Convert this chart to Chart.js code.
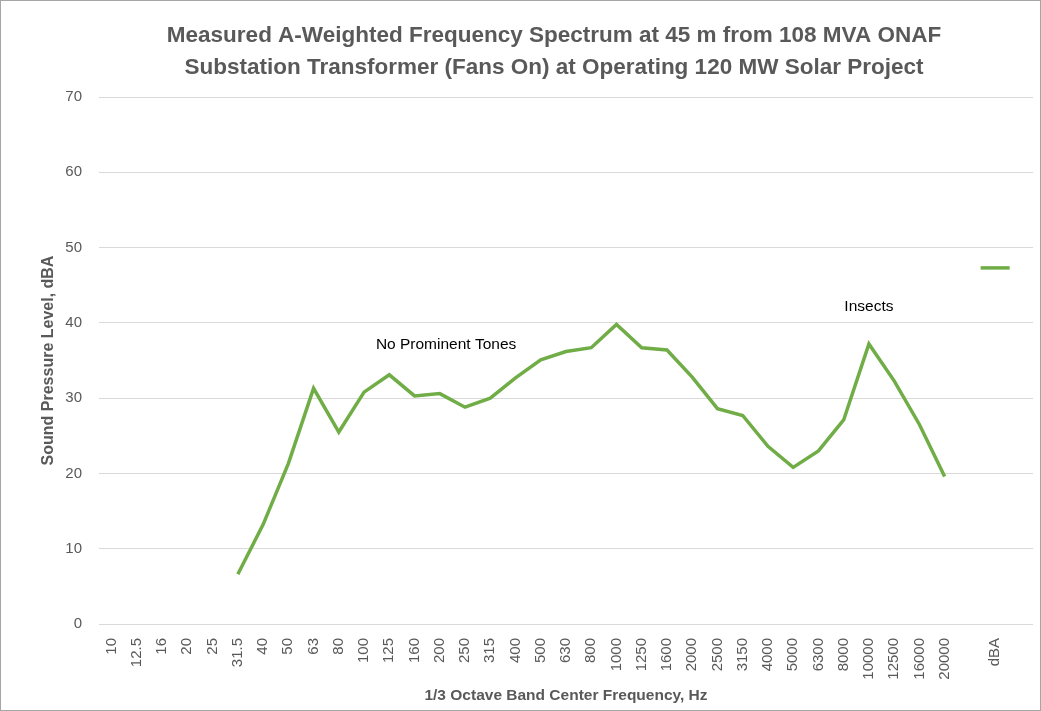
<!DOCTYPE html>
<html>
<head>
<meta charset="utf-8">
<script src="https://cdn.jsdelivr.net/npm/chart.js@4"></script>
<style>
  body { margin: 0; background: #fff; }
  /* canvas is a bit wider than the frame: the x axis keeps ~18px on the right for its last (empty) label */
  #wrap { width: 1039px; height: 709px; border: 1px solid #a6a6a6; position: relative; overflow: hidden; }
</style>
</head>
<body>
<div id="wrap"><canvas id="mycanvas" width="1050" height="709"></canvas></div>
<script>
// 1/3 octave bands, one blank slot before dBA and one after
var bands = ["10","12.5","16","20","25","31.5","40","50","63","80","100","125","160","200","250","315","400","500","630","800","1000","1250","1600","2000","2500","3150","4000","5000","6300","8000","10000","12500","16000","20000","","dBA",""];
var spectrum = [null,null,null,null,null,6.6,13.2,21.3,31.3,25.5,30.8,33.1,30.3,30.6,28.8,30.0,32.7,35.1,36.2,36.7,39.8,36.7,36.4,32.8,28.6,27.7,23.6,20.8,23.0,27.1,37.2,32.3,26.5,19.6,null,null,null];
var overall = [];
for (var i = 0; i < bands.length; i++) overall.push(bands[i] == "dBA" ? 47.3 : null);
var yTicks = [0,10,20,30,40,50,60,70];
var titleLines = ["Measured A-Weighted Frequency Spectrum at 45 m from 108 MVA ONAF", "Substation Transformer (Fans On) at Operating 120 MW Solar Project"];
var notes = [
  { text: "No Prominent Tones", band: 13.25, level: 37.1 },
  { text: "Insects", band: 30, level: 42.2 }
];

// title + text boxes drawn straight on the canvas
var textPlugin = {
  id: 'texts',
  afterDraw: function(chart) {
    var ctx = chart.ctx;
    ctx.save();
    ctx.textAlign = "center";
    ctx.textBaseline = "middle";
    ctx.fillStyle = "#595959";
    ctx.font = "bold 22.5px 'Liberation Sans', Arial";
    ctx.fillText(titleLines[0], 553, 35);
    ctx.fillText(titleLines[1], 553, 67);
    ctx.font = "15.5px 'Liberation Sans', Arial";
    ctx.fillStyle = "#000";
    notes.forEach(function(n) {
      ctx.fillText(n.text, chart.scales.x.getPixelForValue(n.band), chart.scales.y.getPixelForValue(n.level));
    });
    ctx.restore();
  }
};

var ctx = document.getElementById("mycanvas");
var chart = new Chart(ctx, {
  type: 'line',
  data: {
    labels: bands,
    datasets: [
      {
        label: "spectrum",
        data: spectrum,
        borderColor: "#70AD47",
        borderWidth: 3.5,
        pointRadius: 0,
        tension: 0,
        spanGaps: false
      },
      {
        label: "dBA",
        data: overall,
        borderColor: "#70AD47",
        backgroundColor: "#70AD47",
        pointStyle: 'line',
        pointRadius: 14.5,
        pointBorderWidth: 3.5,
        showLine: false
      }
    ]
  },
  options: {
    responsive: false,
    animation: false,
    layout: { padding: { left: 0, right: 7, top: 96, bottom: 0 } },
    plugins: {
      legend: { display: false },
      tooltip: { enabled: false },
      title: { display: false }
    },
    scales: {
      x: {
        offset: true,
        grid: { display: false },
        border: { display: false },
        ticks: {
          color: "#595959",
          font: { family: "'Liberation Sans', Arial", size: 15 },
          minRotation: 90, maxRotation: 90,
          autoSkip: false,
          padding: 6
        },
        title: {
          display: true,
          text: "1/3 Octave Band Center Frequency, Hz",
          color: "#595959",
          font: { family: "'Liberation Sans', Arial", size: 15.5, weight: 'bold' },
          padding: { top: 0, bottom: 5 }
        },
        afterFit: function(s) { s.height = 86; }
      },
      y: {
        min: 0, max: 70,
        afterBuildTicks: function(s) { s.ticks = yTicks.map(function(v) { return { value: v }; }); },
        grid: { color: "#d9d9d9", lineWidth: 1, drawTicks: false },
        border: { display: false },
        ticks: {
          color: "#595959",
          font: { family: "'Liberation Sans', Arial", size: 15 },
          padding: 17
        },
        title: {
          display: true,
          text: "Sound Pressure Level, dBA",
          color: "#595959",
          font: { family: "'Liberation Sans', Arial", size: 16, weight: 'bold' },
          padding: { top: 38, bottom: 0 }
        },
        afterFit: function(s) { s.width = 98; s.paddingTop = 0; s.paddingBottom = 0; }
      }
    }
  },
  plugins: [textPlugin]
});
</script>
</body>
</html>
